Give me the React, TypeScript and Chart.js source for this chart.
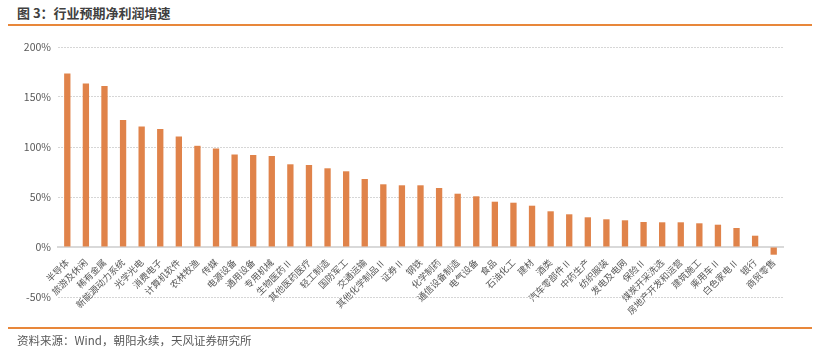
import React, { useEffect, useRef } from "react";
import { Chart, registerables } from "chart.js";

Chart.register(...registerables);

const categories = [
  "半导体", "旅游及休闲", "稀有金属", "新能源动力系统", "光学光电", "消费电子",
  "计算机软件", "农林牧渔", "传媒", "电源设备", "通用设备", "专用机械",
  "生物医药Ⅱ", "其他医药医疗", "轻工制造", "国防军工", "交通运输", "其他化学制品Ⅱ",
  "证券Ⅱ", "钢铁", "化学制药", "通信设备制造", "电气设备", "食品",
  "石油化工", "建材", "酒类", "汽车零部件Ⅱ", "中药生产", "纺织服装",
  "发电及电网", "保险Ⅱ", "煤炭开采洗选", "房地产开发和运营", "建筑施工", "乘用车Ⅱ",
  "白色家电Ⅱ", "银行", "商贸零售",
];

const growth = [
  173.5, 163.5, 161, 127, 120.5, 118,
  110.5, 101.2, 98.5, 92.5, 92, 91,
  82.7, 82, 78.7, 75.7, 68, 62.7,
  61.7, 61.7, 59, 53.3, 50.7, 45.3,
  44.3, 41.3, 35.7, 32.7, 29.7, 27.7,
  26.7, 25, 24.7, 24.7, 23.7, 22.3,
  19, 11.3, -7.7,
];

const yTicks = [-50, 0, 50, 100, 150, 200];

const titleText = "图 3：行业预期净利润增速";
const sourceText = "资料来源：Wind，朝阳永续，天风证券研究所";

const FONT = '"Noto Sans CJK SC", "Noto Sans", sans-serif';

export default function App() {
  const ref = useRef<HTMLCanvasElement | null>(null);

  useEffect(() => {
    const canvas = ref.current;
    if (!canvas) return;
    const chart = new Chart(canvas, {
      type: "bar",
      data: {
        labels: categories,
        datasets: [
          {
            data: growth,
            backgroundColor: "#E0834A",
            borderWidth: 0,
            categoryPercentage: 1,
            barPercentage: 0.34,
          },
        ],
      },
      options: {
        responsive: false,
        animation: false,
        devicePixelRatio: 1,
        layout: { padding: { top: 47, bottom: 60, left: 0, right: 49 } },
        plugins: { legend: { display: false }, tooltip: { enabled: false } },
        scales: {
          x: {
            position: { y: 0 } as any,
            grid: { display: false },
            border: { display: true, color: "#D9D9D9", width: 2 },
            ticks: {
              autoSkip: false,
              maxRotation: 45,
              minRotation: 45,
              padding: 2,
              color: "#595959",
              font: { family: FONT, size: 9.2 },
            },
          },
          y: {
            min: -50,
            max: 200,
            afterBuildTicks: (scale: any) => {
              scale.ticks = yTicks.map((v) => ({ value: v }));
            },
            afterFit: (scale: any) => {
              scale.width = 58;
            },
            grid: {
              color: "#D6D6D6",
              lineWidth: 1,
              drawTicks: false,
              tickLength: 0,
            },
            border: { display: false, dash: [2, 1] },
            ticks: {
              padding: 7,
              color: "#595959",
              font: { family: FONT, size: 10.5 },
              callback: (v: any) => `${v}%`,
            },
          },
        },
      },
    });
    return () => chart.destroy();
  }, []);

  return (
    <div
      style={{
        position: "absolute",
        left: 0,
        top: 0,
        width: 832,
        height: 357,
        background: "#fff",
        fontFamily: FONT,
      }}
    >
      <div
        style={{
          position: "absolute",
          left: 17,
          top: 4,
          fontSize: 13,
          fontWeight: 700,
          color: "#404040",
          lineHeight: "18px",
        }}
      >
        {titleText}
      </div>
      <div
        style={{
          position: "absolute",
          left: 8,
          top: 24,
          width: 804,
          height: 1.5,
          background: "#E8873A",
        }}
      />
      <canvas
        ref={ref}
        width={832}
        height={357}
        style={{ position: "absolute", left: 0, top: 0 }}
      />
      <div
        style={{
          position: "absolute",
          left: 8,
          top: 327,
          width: 804,
          height: 1.5,
          background: "#E8873A",
        }}
      />
      <div
        style={{
          position: "absolute",
          left: 17,
          top: 332,
          fontSize: 11.5,
          color: "#595959",
          lineHeight: "16px",
        }}
      >
        {sourceText}
      </div>
    </div>
  );
}
